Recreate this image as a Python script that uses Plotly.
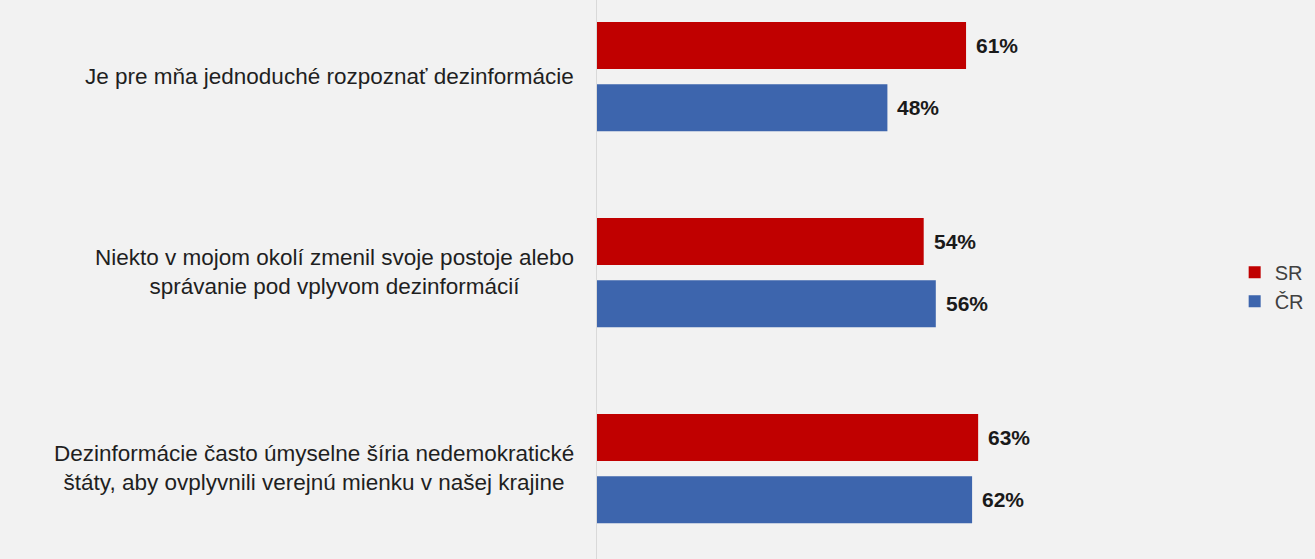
import plotly.graph_objects as go

categories = [
    "Je pre mňa jednoduché rozpoznať dezinformácie",
    "Niekto v mojom okolí zmenil svoje postoje alebo<br>správanie pod vplyvom dezinformácií",
    "Dezinformácie často úmyselne šíria nedemokratické<br>štáty, aby ovplyvnili verejnú mienku v našej krajine",
]
series_names = ["SR", "ČR"]
sr_values = [61, 54, 63]
cr_values = [48, 56, 62]

RED = "#c00000"
BLUE = "#3d65ad"
BG = "#f2f2f2"
FONT = "Liberation Sans, Arial, sans-serif"

fig = go.Figure()
fig.add_trace(go.Bar(
    y=categories, x=sr_values, name=series_names[0], orientation="h",
    marker=dict(color=RED, line=dict(width=0)), width=0.24, offset=-0.278,
    hoverinfo="x+name",
))
fig.add_trace(go.Bar(
    y=categories, x=cr_values, name=series_names[1], orientation="h",
    marker=dict(color=BLUE, line=dict(width=0)), width=0.24, offset=0.04,
    hoverinfo="x+name",
))

annotations = []
for i, cat in enumerate(categories):
    annotations.append(dict(
        xref="paper", yref="y", x=-0.035, y=i, xanchor="right", yanchor="middle",
        text=cat, align="center", showarrow=False,
        font=dict(family=FONT, size=22.5, color="#1f1f1f"),
    ))
    for vals, off in ((sr_values, -0.158), (cr_values, 0.16)):
        annotations.append(dict(
            xref="x", yref="y", x=vals[i], y=i + off, xanchor="left", yanchor="middle",
            xshift=8, text=f"<b>{vals[i]}%</b>", showarrow=False,
            font=dict(family=FONT, size=21, color="#1a1a1a"),
        ))

fig.update_layout(
    width=1315, height=559,
    margin=dict(l=597, r=113, t=0, b=0, pad=0),
    paper_bgcolor=BG, plot_bgcolor=BG,
    barmode="overlay",
    showlegend=True,
    legend=dict(
        x=1.054, y=0.487, xanchor="left", yanchor="middle",
        font=dict(family=FONT, size=20, color="#404040"),
        bgcolor="rgba(0,0,0,0)", tracegroupgap=0, traceorder="normal",
    ),
    xaxis=dict(range=[0, 100], visible=False, showgrid=False, zeroline=False),
    yaxis=dict(
        type="category", range=[2.462, -0.390], showticklabels=False,
        showgrid=False, zeroline=False, showline=True, linecolor="#d9d9d9",
        linewidth=1, ticks="",
    ),
    annotations=annotations,
    font=dict(family=FONT),
)

fig.write_html("out.html")
